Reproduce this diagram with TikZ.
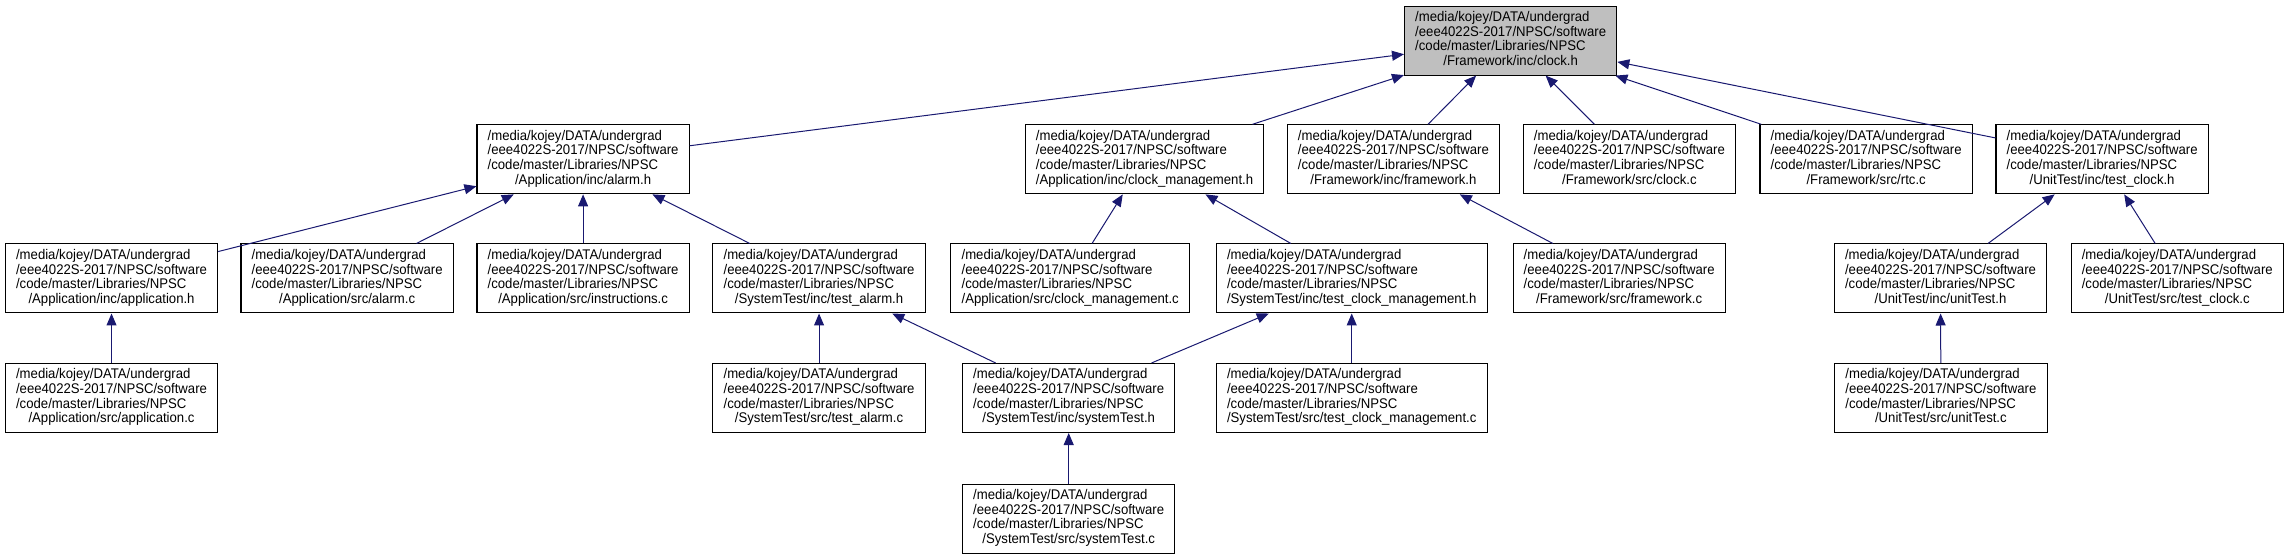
\documentclass[tikz,border=0pt]{standalone}
\usepackage{fontspec}
\usepackage{xcolor}
\usepackage{tikz}
\usetikzlibrary{arrows.meta}

\newfontfamily\dotfont[FakeStretch=0.94]{Liberation Sans}
\definecolor{edgeblue}{HTML}{191970}
\definecolor{focusgray}{HTML}{BFBFBF}
\newcommand{\npscfile}[1]{\begin{tabular}{@{}l@{}}/media/kojey/DATA/undergrad\\/eee4022S-2017/NPSC/software\\/code/master/Libraries/NPSC\\\multicolumn{1}{@{}c@{}}{#1}\end{tabular}}

\begin{document}
\begin{tikzpicture}[
    every node/.style={font=\dotfont\fontsize{10.5}{11}\selectfont},
    filebox/.style={rectangle, draw, line width=0.8pt, fill=white, inner xsep=8pt, inner ysep=2pt, minimum height=51.75pt},
    rootbox/.style={filebox, fill=focusgray},
    incl/.style={->, >={Triangle[length=9pt, width=7.5pt]}, draw=edgeblue, line width=0.75pt},
]
\useasboundingbox (0,0) rectangle (60.31,-14.66);

% Row 0
\node[rootbox] (clock_h) at (39.82,-1.07) {\npscfile{/Framework/inc/clock.h}};

% Row 1
\node[filebox] (alarm_h) at (15.37,-4.20) {\npscfile{/Application/inc/alarm.h}};
\node[filebox] (clkmgmt_h) at (30.17,-4.20) {\npscfile{/Application/inc/clock\_management.h}};
\node[filebox] (framework_h) at (36.73,-4.20) {\npscfile{/Framework/inc/framework.h}};
\node[filebox] (clock_c) at (42.95,-4.20) {\npscfile{/Framework/src/clock.c}};
\node[filebox] (rtc_c) at (49.19,-4.20) {\npscfile{/Framework/src/rtc.c}};
\node[filebox] (testclock_h) at (55.41,-4.20) {\npscfile{/UnitTest/inc/test\_clock.h}};

% Row 2
\node[filebox] (application_h) at (2.94,-7.34) {\npscfile{/Application/inc/application.h}};
\node[filebox] (alarm_c) at (9.15,-7.34) {\npscfile{/Application/src/alarm.c}};
\node[filebox] (instructions_c) at (15.37,-7.34) {\npscfile{/Application/src/instructions.c}};
\node[filebox] (testalarm_h) at (21.59,-7.34) {\npscfile{/SystemTest/inc/test\_alarm.h}};
\node[filebox] (clkmgmt_c) at (28.21,-7.34) {\npscfile{/Application/src/clock\_management.c}};
\node[filebox] (testclkmgmt_h) at (35.63,-7.34) {\npscfile{/SystemTest/inc/test\_clock\_management.h}};
\node[filebox] (framework_c) at (42.68,-7.34) {\npscfile{/Framework/src/framework.c}};
\node[filebox] (unittest_h) at (51.15,-7.34) {\npscfile{/UnitTest/inc/unitTest.h}};
\node[filebox] (testclock_c) at (57.39,-7.34) {\npscfile{/UnitTest/src/test\_clock.c}};

% Row 3
\node[filebox] (application_c) at (2.94,-10.49) {\npscfile{/Application/src/application.c}};
\node[filebox] (testalarm_c) at (21.59,-10.49) {\npscfile{/SystemTest/src/test\_alarm.c}};
\node[filebox] (systemtest_h) at (28.17,-10.49) {\npscfile{/SystemTest/inc/systemTest.h}};
\node[filebox] (testclkmgmt_c) at (35.63,-10.49) {\npscfile{/SystemTest/src/test\_clock\_management.c}};
\node[filebox] (unittest_c) at (51.16,-10.49) {\npscfile{/UnitTest/src/unitTest.c}};

% Row 4
\node[filebox] (systemtest_c) at (28.17,-13.67) {\npscfile{/SystemTest/src/systemTest.c}};

% Includes, arrow at the included file
\draw[incl] (alarm_h) -- (clock_h);
\draw[incl] (clkmgmt_h) -- (clock_h);
\draw[incl] (framework_h) -- (clock_h);
\draw[incl] (clock_c) -- (clock_h);
\draw[incl] (rtc_c) -- (clock_h);
\draw[incl] (testclock_h) -- (clock_h);
\draw[incl] (application_h) -- (alarm_h);
\draw[incl] (alarm_c) -- (alarm_h);
\draw[incl] (instructions_c) -- (alarm_h);
\draw[incl] (testalarm_h) -- (alarm_h);
\draw[incl] (clkmgmt_c) -- (clkmgmt_h);
\draw[incl] (testclkmgmt_h) -- (clkmgmt_h);
\draw[incl] (framework_c) -- (framework_h);
\draw[incl] (unittest_h) -- (testclock_h);
\draw[incl] (testclock_c) -- (testclock_h);
\draw[incl] (application_c) -- (application_h);
\draw[incl] (testalarm_c) -- (testalarm_h);
\draw[incl] (systemtest_h) -- (testalarm_h);
\draw[incl] (systemtest_h) -- (testclkmgmt_h);
\draw[incl] (testclkmgmt_c) -- (testclkmgmt_h);
\draw[incl] (unittest_c) -- (unittest_h);
\draw[incl] (systemtest_c) -- (systemtest_h);
\end{tikzpicture}
\end{document}
